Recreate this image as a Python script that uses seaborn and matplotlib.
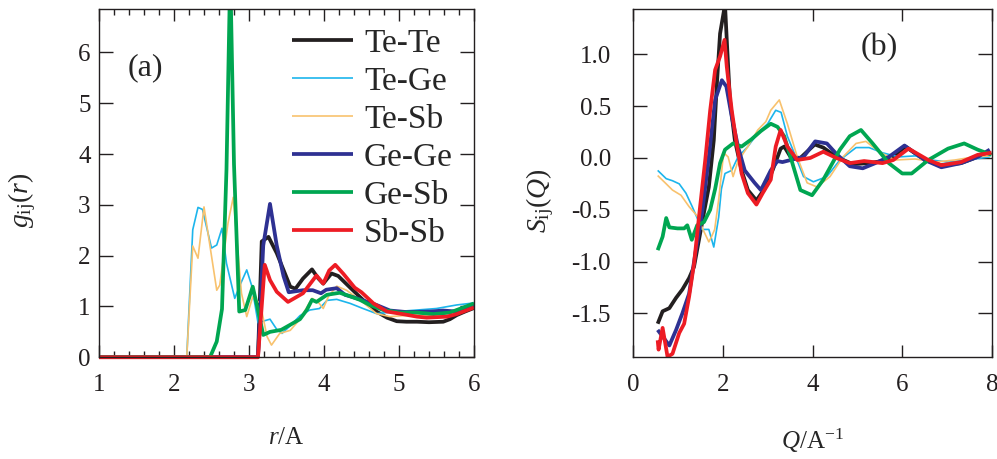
import matplotlib
matplotlib.use("Agg")
import matplotlib.pyplot as plt
from matplotlib.ticker import MultipleLocator, FormatStrFormatter
import seaborn as sns

# ---------------- partial pair distribution functions g_ij(r) ----------------
r_tete = [1.0, 3.12, 3.17, 3.26, 3.37, 3.46, 3.55, 3.62, 3.72, 3.84, 3.92, 3.99, 4.10, 4.19,
          4.35, 4.52, 4.70, 4.84, 4.97, 5.10, 5.24, 5.40, 5.59, 5.68, 5.77, 5.88, 6.0]
g_tete = [0.0, 0.0, 2.28, 2.37, 2.05, 1.72, 1.39, 1.35, 1.55, 1.73, 1.56, 1.45, 1.65, 1.60,
          1.37, 1.13, 0.90, 0.78, 0.71, 0.70, 0.70, 0.69, 0.70, 0.75, 0.83, 0.90, 0.97]

r_tege = [1.0, 2.17, 2.25, 2.32, 2.38, 2.50, 2.57, 2.64, 2.70, 2.81, 2.88, 2.97, 3.04, 3.12,
          3.21, 3.28, 3.37, 3.44, 3.55, 3.68, 3.81, 3.94, 4.04, 4.17, 4.35, 4.52, 4.70, 4.97,
          5.24, 5.50, 5.77, 6.0]
g_tege = [0.0, 0.0, 2.51, 2.95, 2.91, 2.15, 2.21, 2.54, 1.85, 1.16, 1.42, 1.72, 1.39, 0.68,
          0.72, 0.75, 0.55, 0.47, 0.62, 0.82, 0.93, 0.96, 1.12, 1.14, 1.06, 0.96, 0.86, 0.90,
          0.93, 0.96, 1.03, 1.07]

r_tesb = [1.0, 2.17, 2.25, 2.32, 2.40, 2.57, 2.61, 2.72, 2.79, 2.90, 2.97, 3.05, 3.15, 3.24,
          3.30, 3.41, 3.55, 3.68, 3.84, 3.92, 3.99, 4.06, 4.17, 4.30, 4.48, 4.70, 4.88, 5.15,
          5.41, 5.68, 6.0]
g_tesb = [0.0, 0.0, 2.19, 1.95, 2.96, 1.32, 1.42, 2.64, 3.15, 1.26, 0.80, 1.19, 1.06, 0.41,
          0.24, 0.47, 0.53, 0.75, 1.16, 1.09, 0.96, 1.20, 1.40, 1.32, 1.13, 0.86, 0.80, 0.83,
          0.83, 0.90, 1.05]

r_gege = [1.0, 3.12, 3.19, 3.28, 3.37, 3.46, 3.53, 3.72, 3.85, 3.96, 4.03, 4.17, 4.28, 4.44,
          4.70, 4.88, 5.10, 5.41, 5.59, 5.77, 6.0]
g_gege = [0.0, 0.0, 2.20, 3.02, 2.20, 1.60, 1.28, 1.32, 1.32, 1.26, 1.33, 1.36, 1.23, 1.16,
          1.03, 0.92, 0.89, 0.90, 0.92, 0.90, 1.03]

r_gesb = [1.0, 2.48, 2.57, 2.64, 2.70, 2.75, 2.80, 2.87, 2.95, 3.05, 3.12, 3.19, 3.28, 3.43,
          3.55, 3.68, 3.77, 3.84, 3.90, 4.04, 4.21, 4.35, 4.48, 4.61, 4.79, 5.01, 5.24, 5.46,
          5.68, 6.0]
g_gesb = [0.0, 0.0, 0.31, 0.95, 3.70, 7.60, 3.80, 0.90, 0.93, 1.39, 0.93, 0.44, 0.50, 0.54,
          0.64, 0.75, 0.93, 1.13, 1.09, 1.23, 1.27, 1.20, 1.13, 1.03, 0.93, 0.88, 0.88, 0.85,
          0.88, 1.06]

r_sbsb = [1.0, 3.12, 3.21, 3.28, 3.37, 3.52, 3.72, 3.90, 3.99, 4.07, 4.15, 4.26, 4.41, 4.50,
          4.66, 4.84, 5.01, 5.24, 5.37, 5.64, 5.77, 6.0]
g_sbsb = [0.0, 0.0, 1.82, 1.52, 1.29, 1.09, 1.26, 1.61, 1.45, 1.71, 1.82, 1.64, 1.37, 1.28,
          1.06, 0.90, 0.86, 0.80, 0.78, 0.80, 0.85, 0.98]

# ---------------- partial structure factors S_ij(Q) ----------------
q_tete = [0.55, 0.66, 0.81, 0.96, 1.10, 1.25, 1.36, 1.47, 1.58, 1.69, 1.80, 1.87, 1.94, 2.05,
          2.10, 2.16, 2.27, 2.42, 2.56, 2.75, 2.93, 3.11, 3.29, 3.37, 3.51, 3.73, 4.05, 4.24,
          4.53, 4.90, 5.26, 5.70, 6.07, 6.50, 6.87, 7.31, 7.68, 7.95]
s_tete = [-1.60, -1.48, -1.45, -1.35, -1.27, -1.16, -1.05, -0.79, -0.53, -0.28, 0.17, 0.72,
          1.20, 1.48, 1.05, 0.56, 0.17, -0.12, -0.31, -0.41, -0.30, -0.12, 0.09, 0.11, 0.01,
          0.00, 0.13, 0.10, 0.01, -0.06, -0.05, -0.02, 0.11, -0.02, -0.07, -0.05, 0.01, 0.06]

q_tege = [0.55, 0.74, 0.88, 1.03, 1.18, 1.32, 1.43, 1.54, 1.69, 1.80, 1.91, 1.97, 2.05, 2.20,
          2.34, 2.56, 2.78, 3.00, 3.18, 3.30, 3.44, 3.59, 3.80, 4.02, 4.32, 4.61, 4.97, 5.26,
          5.56, 5.92, 6.29, 6.65, 7.02, 7.46, 7.95]
s_tege = [-0.12, -0.20, -0.22, -0.25, -0.34, -0.47, -0.58, -0.69, -0.69, -0.86, -0.57, -0.30,
          -0.15, -0.12, 0.01, 0.11, 0.24, 0.33, 0.46, 0.44, 0.21, 0.05, -0.18, -0.23, -0.18,
          -0.02, 0.10, 0.10, 0.05, 0.01, 0.02, -0.02, -0.04, -0.02, 0.01]

q_tesb = [0.55, 0.74, 0.88, 1.07, 1.25, 1.43, 1.58, 1.69, 1.75, 1.82, 1.91, 2.02, 2.12, 2.23,
          2.34, 2.56, 2.78, 2.96, 3.07, 3.26, 3.44, 3.66, 3.88, 4.10, 4.39, 4.68, 4.97, 5.19,
          5.48, 5.84, 6.29, 6.72, 7.17, 7.60, 7.95]
s_tesb = [-0.17, -0.25, -0.31, -0.36, -0.47, -0.56, -0.71, -0.81, -0.76, -0.69, -0.40, 0.05,
          0.01, -0.18, -0.03, 0.11, 0.27, 0.35, 0.46, 0.56, 0.33, 0.01, -0.24, -0.28, -0.18,
          0.01, 0.14, 0.16, 0.06, -0.02, -0.01, -0.04, -0.02, 0.01, 0.02]

q_gege = [0.55, 0.81, 0.96, 1.10, 1.25, 1.39, 1.54, 1.69, 1.83, 1.98, 2.08, 2.20, 2.34, 2.49,
          2.71, 2.85, 3.07, 3.22, 3.33, 3.51, 3.80, 4.06, 4.32, 4.53, 4.83, 5.12, 5.40, 5.70,
          6.05, 6.50, 6.87, 7.31, 7.68, 7.95]
s_gege = [-1.66, -1.81, -1.66, -1.50, -1.31, -0.92, -0.53, 0.01, 0.56, 0.75, 0.69, 0.40,
          0.11, -0.12, -0.24, -0.31, -0.12, -0.03, -0.04, -0.02, 0.01, 0.16, 0.14, 0.04,
          -0.08, -0.10, -0.05, 0.01, 0.12, -0.02, -0.09, -0.05, 0.01, 0.08]

q_gesb = [0.55, 0.66, 0.74, 0.81, 0.99, 1.14, 1.21, 1.31, 1.43, 1.58, 1.72, 1.83, 1.94, 2.05,
          2.23, 2.42, 2.64, 2.85, 3.07, 3.22, 3.37, 3.51, 3.73, 3.99, 4.24, 4.61, 4.83, 5.08,
          5.34, 5.70, 6.00, 6.21, 6.58, 7.02, 7.38, 7.68, 7.99]
s_gesb = [-0.89, -0.76, -0.58, -0.67, -0.68, -0.68, -0.65, -0.79, -0.65, -0.62, -0.50,
          -0.30, -0.05, 0.08, 0.14, 0.11, 0.18, 0.26, 0.33, 0.30, 0.21, 0.01, -0.31, -0.36,
          -0.21, 0.08, 0.21, 0.27, 0.14, -0.05, -0.15, -0.15, -0.02, 0.09, 0.14, 0.08, 0.03]

q_sbsb = [0.55, 0.57, 0.66, 0.77, 0.88, 1.03, 1.14, 1.25, 1.36, 1.47, 1.61, 1.72, 1.83, 1.94,
          2.04, 2.09, 2.20, 2.31, 2.42, 2.56, 2.75, 2.89, 3.07, 3.18, 3.29, 3.44, 3.66, 3.95,
          4.24, 4.53, 4.83, 5.15, 5.56, 5.80, 6.14, 6.58, 6.87, 7.31, 7.68, 7.99]
s_sbsb = [-1.76, -1.85, -1.64, -1.92, -1.89, -1.69, -1.60, -1.34, -1.02, -0.57, -0.02, 0.46,
          0.85, 0.98, 1.14, 0.88, 0.46, 0.14, -0.15, -0.34, -0.45, -0.34, -0.21, 0.11, 0.27,
          0.11, -0.02, 0.00, 0.06, 0.00, -0.05, -0.03, -0.05, -0.02, 0.09, -0.02, -0.07,
          -0.04, 0.03, 0.05]

pairs = ["Te-Te", "Te-Ge", "Te-Sb", "Ge-Ge", "Ge-Sb", "Sb-Sb"]
colors = ["#231f20", "#1cb5ec", "#f8c26e", "#2e3192", "#00a651", "#ed1c24"]
widths = [2.7, 1.2, 1.2, 2.7, 2.7, 2.7]

gr_data = [(r_tete, g_tete), (r_tege, g_tege), (r_tesb, g_tesb),
           (r_gege, g_gege), (r_gesb, g_gesb), (r_sbsb, g_sbsb)]
sq_data = [(q_tete, s_tete), (q_tege, s_tege), (q_tesb, s_tesb),
           (q_gege, s_gege), (q_gesb, s_gesb), (q_sbsb, s_sbsb)]

sns.set_theme(style="ticks")
plt.rcParams.update({
    "font.family": ["Liberation Serif", "DejaVu Serif"],
    "mathtext.fontset": "custom",
    "mathtext.rm": "Liberation Serif",
    "mathtext.it": "Liberation Serif:italic",
    "axes.unicode_minus": False,
    "axes.edgecolor": "#231f20",
    "axes.linewidth": 1.0,
    "xtick.color": "#231f20",
    "ytick.color": "#231f20",
})

fig = plt.figure(figsize=(9.97, 4.59), dpi=100)
ax1 = fig.add_axes([0.0993, 0.2216, 0.3761, 0.7582])
ax2 = fig.add_axes([0.6349, 0.2216, 0.3601, 0.7582])

for name, col, lw, (x, y) in zip(pairs, colors, widths, gr_data):
    sns.lineplot(x=x, y=y, ax=ax1, color=col, linewidth=lw, label=name,
                 sort=False, estimator=None, solid_capstyle="butt",
                 clip_on=(name != "Sb-Sb"))

for name, col, lw, (x, y) in zip(pairs, colors, widths, sq_data):
    sns.lineplot(x=x, y=y, ax=ax2, color=col, linewidth=lw, legend=False,
                 sort=False, estimator=None, solid_capstyle="butt")

# panel (a)
ax1.set_xlim(1, 6)
ax1.set_ylim(0, 6.85)
ax1.xaxis.set_major_locator(MultipleLocator(1))
ax1.xaxis.set_minor_locator(MultipleLocator(0.2))
ax1.yaxis.set_major_locator(MultipleLocator(1))
ax1.tick_params(axis="both", which="both", direction="in", top=True, right=True,
                labelsize=18, width=1.0)
ax1.tick_params(axis="y", which="major", length=10, pad=6)
ax1.tick_params(axis="x", which="major", length=8.5, pad=12)
ax1.tick_params(axis="x", which="minor", length=4.3)
ax1.set_xlabel(r"$r$/A", fontsize=18)
ax1.set_ylabel(r"$g_{\rm ij}(r)$", fontsize=20)
ax1.xaxis.set_label_coords(0.5, -0.2)
ax1.yaxis.set_label_coords(-0.163, 0.45)
ax1.text(0.124, 0.831, "(a)", transform=ax1.transAxes, fontsize=23,
         ha="center", va="center")
ax1.legend(loc="upper left", bbox_to_anchor=(0.514, 0.946), frameon=False,
           fontsize=24, handlelength=1.85, handletextpad=0.32, labelspacing=0.225,
           borderpad=0, borderaxespad=0)

# panel (b)
ax2.set_xlim(0, 8)
ax2.set_ylim(-1.924, 1.435)
ax2.xaxis.set_major_locator(MultipleLocator(2))
ax2.yaxis.set_major_locator(MultipleLocator(0.5))
ax2.yaxis.set_major_formatter(FormatStrFormatter("%.1f"))
ax2.tick_params(axis="both", which="both", direction="in", top=True, right=True,
                labelsize=18, width=1.0)
ax2.tick_params(axis="y", which="major", length=10, pad=16)
ax2.tick_params(axis="x", which="major", length=8.5, pad=12)
ax2.set_xlabel(r"$Q$/A$^{-1}$", fontsize=18)
ax2.set_ylabel(r"$S_{\rm ij}(Q)$", fontsize=20)
ax2.xaxis.set_label_coords(0.5, -0.2)
ax2.yaxis.set_label_coords(-0.214, 0.45)
ax2.text(0.686, 0.889, "(b)", transform=ax2.transAxes, fontsize=23,
         ha="center", va="center")

fig.savefig("out.png", dpi=100)
